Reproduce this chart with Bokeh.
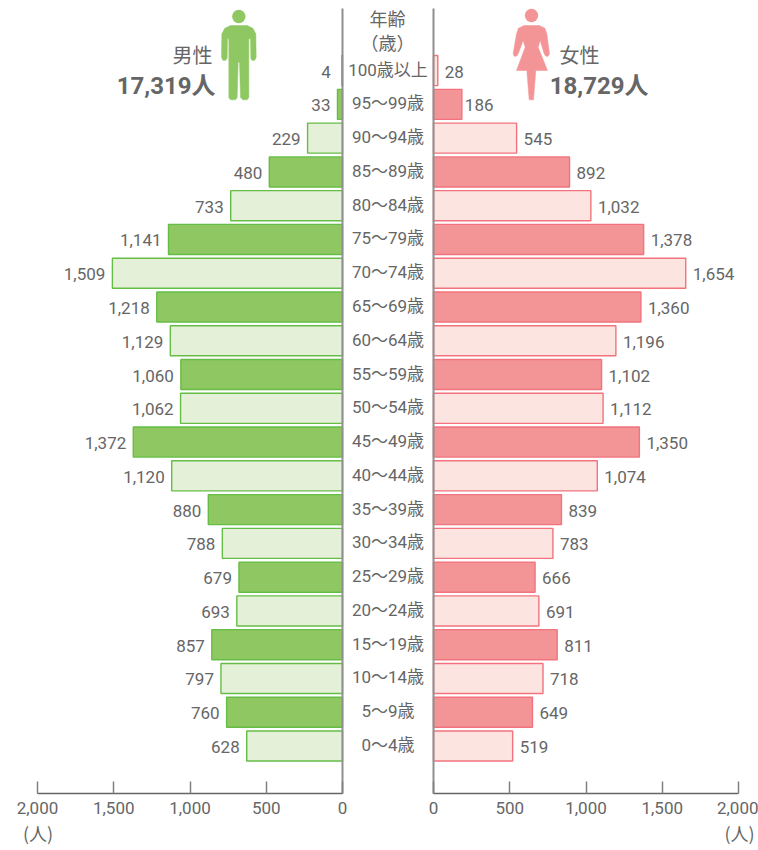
from bokeh.plotting import figure
from bokeh.models import Range1d, LinearAxis, FixedTicker, ColumnDataSource, NumeralTickFormatter
from bokeh.core.properties import value
from bokeh.embed import file_html
from bokeh.resources import INLINE

ages = ["0〜4歳", "5〜9歳", "10〜14歳", "15〜19歳", "20〜24歳", "25〜29歳", "30〜34歳",
        "35〜39歳", "40〜44歳", "45〜49歳", "50〜54歳", "55〜59歳", "60〜64歳", "65〜69歳",
        "70〜74歳", "75〜79歳", "80〜84歳", "85〜89歳", "90〜94歳", "95〜99歳", "100歳以上"]
male = [628, 760, 797, 857, 693, 679, 788, 880, 1120, 1372, 1062, 1060, 1129, 1218,
        1509, 1141, 733, 480, 229, 33, 4]
female = [519, 649, 718, 811, 691, 666, 783, 839, 1074, 1350, 1112, 1102, 1196, 1360,
          1654, 1378, 1032, 892, 545, 186, 28]
axis_ticks = [0, 500, 1000, 1500, 2000]

FONT = "Roboto, Noto Sans CJK JP"
CJK = "Noto Sans CJK JP"
GREY = "#666666"
W, H = 758, 850
OX, OY = 0, 0
MALE0, FEMALE0 = 342, 433  # page x of the two zero lines
PX_PER = 305 / 2000
ROW0, PITCH = 745.5, 33.77
AXIS_Y = 793

def row(py):
    return (ROW0 - py) / PITCH

p = figure(width=W, height=H, output_backend="svg", toolbar_location=None,
           x_range=Range1d(OX, OX + W), y_range=Range1d(row(OY + H), row(OY)),
           x_axis_type=None, y_axis_type=None, min_border=0, outline_line_color=None)
p.grid.visible = False
p.background_fill_color = None
p.border_fill_color = None
p.extra_x_ranges["male"] = Range1d((MALE0 - OX) / PX_PER, (MALE0 - OX - W) / PX_PER)
p.extra_x_ranges["female"] = Range1d((OX - FEMALE0) / PX_PER, (OX + W - FEMALE0) / PX_PER)
p.extra_y_ranges["page"] = Range1d(OY + H, OY)

idx = list(range(len(ages)))
M_FILL = ["#e4f0d8" if i % 2 == 0 else "#8fc862" for i in idx]
F_FILL = ["#fce4e0" if i % 2 == 0 else "#f39597" for i in idx]
src = ColumnDataSource(dict(y=idx, age=ages, male=male, female=female,
                            mlab=[f"{v:,}" for v in male], flab=[f"{v:,}" for v in female],
                            mfill=M_FILL, ffill=F_FILL,
                            mdx=[-11 if v < 10 else -7 for v in male],
                            fdx=[3 if v == 186 else 7 for v in female]))

p.hbar(y="y", left=0, right="male", height=0.89, source=src, x_range_name="male",
       fill_color="mfill", line_color="#66bd45", line_width=1.4)
p.hbar(y="y", left=0, right="female", height=0.89, source=src, x_range_name="female",
       fill_color="ffill", line_color="#f2737d", line_width=1.4)

# centre rules
top = row(OY + 8)
p.segment(x0=[0], x1=[0], y0=[row(AXIS_Y)], y1=[top], x_range_name="male",
          line_color="#8f8f8f", line_width=2)
p.segment(x0=[0], x1=[0], y0=[row(AXIS_Y)], y1=[top], x_range_name="female",
          line_color="#8f8f8f", line_width=2)

lab = dict(text_font=value(FONT), text_font_size="17px", text_color=GREY,
           text_baseline="middle", y_offset=1, source=src)
p.text(x="male", y="y", text="mlab", x_range_name="male", text_align="right", x_offset="mdx", **lab)
p.text(x="female", y="y", text="flab", x_range_name="female", text_align="left", x_offset="fdx", **lab)
p.text(x=387.5, y="y", text="age", text_align="center", text_font=value(FONT),
       text_font_size="17px", text_color=GREY, text_baseline="middle", y_offset=-1, source=src)

for name in ("male", "female"):
    ax = LinearAxis(x_range_name=name, ticker=FixedTicker(ticks=axis_ticks),
                    bounds=(0, 2000), fixed_location=row(AXIS_Y),
                    major_tick_in=12, major_tick_out=0, minor_tick_line_color=None,
                    axis_line_color="#666666", axis_line_width=1.5,
                    major_tick_line_color="#808080", major_tick_line_width=1.5,
                    major_label_standoff=8, major_label_text_color=GREY,
                    major_label_text_font=FONT, major_label_text_font_size="17px",
                    formatter=NumeralTickFormatter(format="0,0"))
    p.add_layout(ax, "below")

def text_page(x, y, s, size, align="center", bold=False, font=CJK):
    p.text(x=[x], y=[y], text=[s], y_range_name="page", text_align=align, text_baseline="middle",
           text_font=value(font), text_font_size=f"{size}px", text_color=GREY,
           text_font_style="bold" if bold else "normal")

text_page(387, 17, "年齢", 18)
text_page(387, 41, "（歳）", 18)
text_page(192, 54, "男性", 20)
text_page(579, 54, "女性", 20)
text_page(215, 85, "17,319人", 24, "right", True, FONT)
text_page(648, 85, "18,729人", 24, "right", True, FONT)
text_page(37.5, 832, "(人)", 18)
text_page(739, 832, "(人)", 18)

# pictograms, in page pixels
def icon(ox, oy, pts, head, color):
    xs = [ox + a / 3 for a, _ in pts]
    ys = [oy + b / 3 for _, b in pts]
    p.patch(xs, ys, y_range_name="page", fill_color=color, line_color=color, line_width=0.5, line_join="round")
    p.scatter([ox + head[0] / 3], [oy + head[1] / 3], size=head[2] * 2 / 3, y_range_name="page",
              fill_color=color, line_color=None)

man = [(45, 60), (95, 60), (112, 68), (121, 85), (122, 155), (118, 164), (110, 165), (106, 158), (105, 100),
       (100, 100), (100, 276), (95, 283), (82, 283), (75, 276), (72, 170), (68, 170), (65, 276), (60, 283),
       (45, 283), (40, 276), (40, 100), (36, 100), (35, 158), (30, 165), (22, 164), (18, 155), (19, 85), (28, 68)]
woman = [(50, 60), (95, 60), (112, 68), (118, 85), (126, 145), (122, 152), (115, 152), (110, 145), (98, 105),
         (92, 125), (120, 195), (85, 195), (78, 283), (65, 283), (58, 195), (27, 195), (53, 125), (47, 105),
         (32, 145), (27, 152), (20, 152), (17, 145), (27, 85), (33, 68)]
icon(215, 5, man, (70, 33, 20), "#8fc862")
icon(507, 5, woman, (72, 30, 20), "#f39597")

open("out.html", "w").write(file_html(p, INLINE))
